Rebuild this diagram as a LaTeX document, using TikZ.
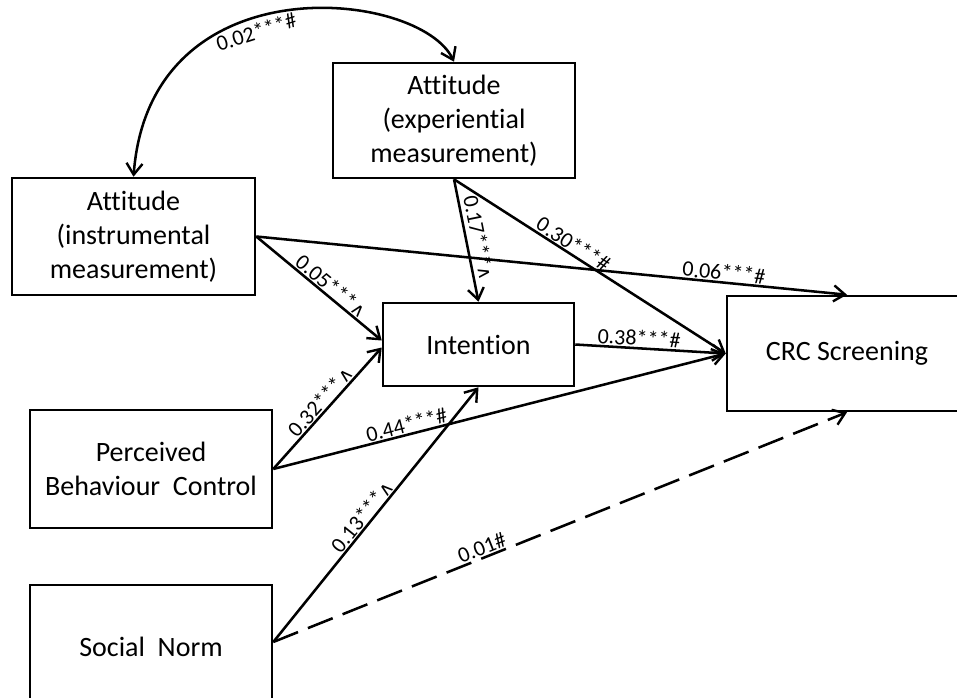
\documentclass[tikz,border=0pt]{standalone}
\usepackage{fontspec}
\setmainfont{Carlito}[Ligatures=CommonOff]
\newfontfamily\symf{DejaVu Sans}
\usetikzlibrary{arrows.meta,calc}
\newcommand{\wdg}{{\symf\fontsize{14}{16}\selectfont ∧}}
\begin{document}
\begin{tikzpicture}[x=0.75pt,y=-0.75pt,
  box/.style={draw,line width=1.9pt,inner sep=0pt,align=center,font=\fontsize{21}{25.5}\selectfont},
  arr/.style={line width=1.9pt,-{Straight Barb[length=8.5pt,width=12pt,line width=1.8pt]}},
  arrboth/.style={line width=1.9pt,{Straight Barb[length=8.5pt,width=12pt,line width=1.8pt]}-{Straight Barb[length=8.5pt,width=12pt,line width=1.8pt]}},
  lbl/.style={font=\fontsize{16.5}{18}\selectfont,inner sep=0.8pt,sloped,above}]
\useasboundingbox (0,0) rectangle (957,697);

\node[box,minimum width=182.25pt,minimum height=87.75pt] (inst) at (133.5,236.5) {Attitude\\(instrumental\\measurement)};
\node[box,minimum width=181.5pt,minimum height=86.25pt] (exp) at (454,120.5) {Attitude\\(experiential\\measurement)};
\node[box,minimum width=143.25pt,minimum height=62.25pt] (int) at (478.5,344.5) {Intention};
\node[box,minimum width=180pt,minimum height=86.25pt] (crc) at (847,353.5) {CRC Screening};
\node[box,minimum width=181.5pt,minimum height=88.5pt] (pbc) at (151,469) {Perceived\\Behaviour~~Control};
\node[box,minimum width=181.5pt,minimum height=93pt] (sn) at (151,647) {Social~~Norm};

\coordinate (snp) at ($(sn.east)+(0,-5)$);
\coordinate (intw1) at ($(int.west)+(0,-4)$);
\coordinate (intw2) at ($(int.west)+(0,3)$);

\draw[arrboth] (inst.north) .. controls (150,-40) and (420,-10) .. (exp.north)
  node[lbl,pos=0.42,below,inner sep=3pt] {0.02***\#};
\draw[arr] (inst.east) -- (crc.north) node[lbl,pos=0.79] {0.06***\#};
\draw[arr] (inst.east) -- (intw1) node[lbl,pos=0.55] {0.05***\wdg};
\draw[arr] (exp.south) -- (int.north) node[lbl,pos=0.5,inner sep=3pt] {0.17***\wdg};
\draw[arr] (exp.south) -- (crc.west) node[lbl,pos=0.42] {0.30***\#};
\draw[arr] (int.east) -- (crc.west) node[lbl,pos=0.42] {0.38***\#};
\draw[arr] (pbc.east) -- (intw2) node[lbl,pos=0.5] {0.32***\wdg};
\draw[arr] (pbc.east) -- (crc.west) node[lbl,pos=0.3] {0.44***\#};
\draw[arr] (snp) -- (int.south) node[lbl,pos=0.47] {0.13***\wdg};
\draw[arr,dash pattern=on 20pt off 8pt] (snp) -- (crc.south) node[lbl,pos=0.37] {0.01\#};
\end{tikzpicture}
\end{document}
